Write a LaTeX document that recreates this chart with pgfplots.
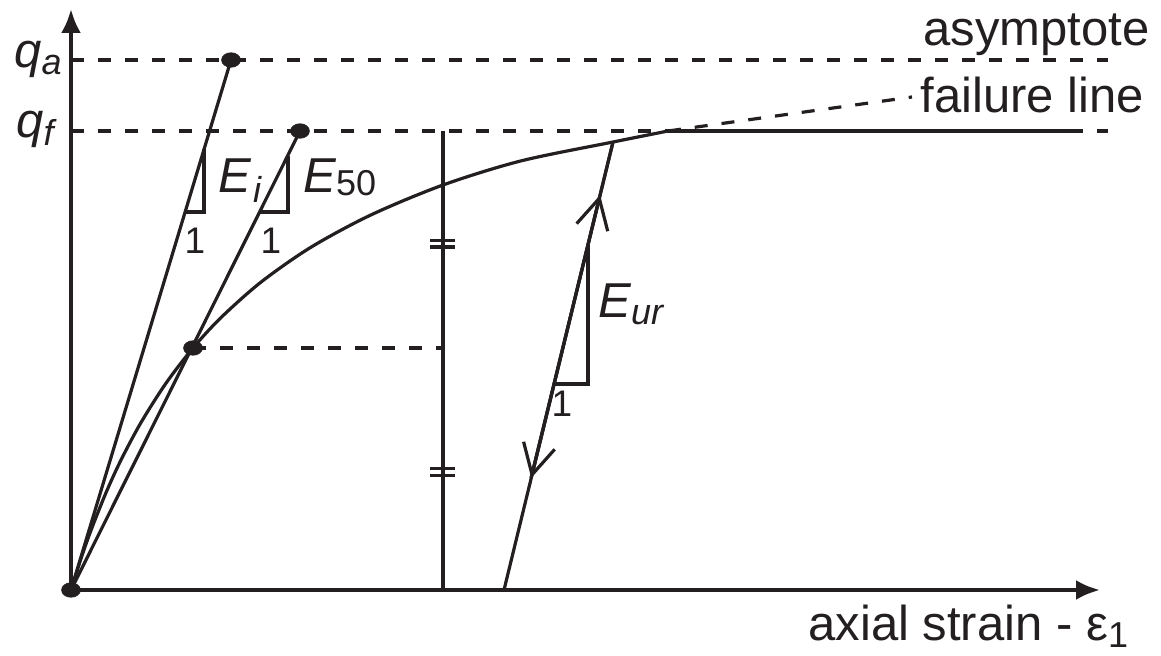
\documentclass[border=0pt]{standalone}
\usepackage{fontspec}
\setmainfont{Liberation Sans}
\usepackage{pgfplots}
\pgfplotsset{compat=1.18}
\usetikzlibrary{arrows.meta}
\definecolor{ink}{RGB}{35,31,32}

\newcommand\lbl{\fontsize{24.5pt}{29pt}\selectfont}
\newcommand\one{\fontsize{18.5pt}{21pt}\selectfont}
\newcommand\sub[2][-3.5pt]{\raisebox{#1}{\fontsize{18pt}{20pt}\selectfont #2}}

\tikzset{
  ln/.style={draw=ink, line width=1.6pt, mark=none},
  dsh/.style={ln, dash pattern=on 6.5pt off 7pt},
  axl/.style={draw=ink, line width=2.1pt, mark=none, -{Latex[length=12pt,width=10pt]}},
  barb/.style={ln, -{Straight Barb[length=15pt,width=16pt,line width=1.6pt]}},
  dot/.style={only marks, mark=*, mark size=3.6pt,
    mark options={xscale=1.3, fill=ink, draw=ink}},
}

\begin{document}
\begin{tikzpicture}
\begin{axis}[
  width=580.5pt, height=327.5pt, scale only axis,
  xmin=-71, xmax=1090, ymin=-65, ymax=590,
  hide axis, clip=false,
]
% page extent
\addplot[draw=none, mark=none] coordinates {(-71,-65) (1090,590)};

% reference levels q_a and q_f
\addplot[dsh] coordinates {(0,530) (1037,530)};
\addplot[dsh] coordinates {(0,459) (1037,459)};

% hyperbolic stress-strain curve and failure plateau
\addplot[ln, smooth] coordinates {
  (0,0) (10,31.4) (20,59.7) (35,97.3) (50,130) (70,167.5) (95,206.8)
  (122,242) (150,272.4) (190,307.9) (240,342.8) (300,375.1) (372,405)
  (450,429.1) (542,448) (597,459)};
\addplot[ln] coordinates {(597,459) (1001,459)};
% extension towards the asymptote
\addplot[dsh] coordinates {(597,459) (841,493)};

% initial stiffness E_i
\addplot[ln] coordinates {(0,0) (160,530)};
\addplot[ln] coordinates {(114,378) (133,378) (133,440.6)};
% secant stiffness E_50
\addplot[ln] coordinates {(0,0) (229,459)};
\addplot[ln] coordinates {(189,378) (217,378) (217,434)};
% 50 % level
\addplot[dsh] coordinates {(122,242) (372,242)};

% vertical with break marks
\addplot[ln] coordinates {(372,0) (372,459)};
\addplot[ln, line width=1.8pt] coordinates {(359,349.5) (384,349.5)};
\addplot[ln, line width=1.8pt] coordinates {(359,343) (384,343)};
\addplot[ln, line width=1.8pt] coordinates {(359,121.5) (384,121.5)};
\addplot[ln, line width=1.8pt] coordinates {(359,114.5) (384,114.5)};

% unloading / reloading branch
\addplot[ln] coordinates {(542,448) (433,0)};
\addplot[barb] coordinates {(542,448) (460.25,112)};
\addplot[barb] coordinates {(460,112) (529.1,395)};
\addplot[ln] coordinates {(483,206) (517,206) (517,345.2)};

% axes
\addplot[axl] coordinates {(0,0) (0,581)};
\addplot[axl] coordinates {(0,0) (1029,0)};

% points
\addplot[dot] coordinates {(0,0) (160,530) (229,459) (122,242)};

% labels
\node[anchor=base east, inner sep=0pt, text=ink] at (axis cs:-9,523) {\lbl\itshape q\sub{a}};
\node[anchor=base east, inner sep=0pt, text=ink] at (axis cs:-17,452) {\lbl\itshape q\sub{f}};
\node[anchor=base west, inner sep=0pt, text=ink] at (axis cs:852,545) {\lbl asymptote};
\node[anchor=base west, inner sep=0pt, text=ink] at (axis cs:849,478) {\lbl failure line};
\node[anchor=base west, inner sep=0pt, text=ink] at (axis cs:147,398) {\lbl\itshape E\hspace{1pt}\sub[-5pt]{i}};
\node[anchor=base west, inner sep=0pt, text=ink] at (axis cs:232,398) {\lbl{\itshape E}\sub[-1.5pt]{50}};
\node[anchor=base west, inner sep=0pt, text=ink] at (axis cs:527,273) {\lbl\itshape E\sub{ur}};
\node[inner sep=0pt, text=ink] at (axis cs:124,349) {\one 1};
\node[inner sep=0pt, text=ink] at (axis cs:200,349) {\one 1};
\node[inner sep=0pt, text=ink] at (axis cs:491,186) {\one 1};
\node[anchor=base west, inner sep=0pt, text=ink] at (axis cs:737,-50) {\lbl axial strain - ε\sub{1}};
\end{axis}
\end{tikzpicture}
\end{document}
